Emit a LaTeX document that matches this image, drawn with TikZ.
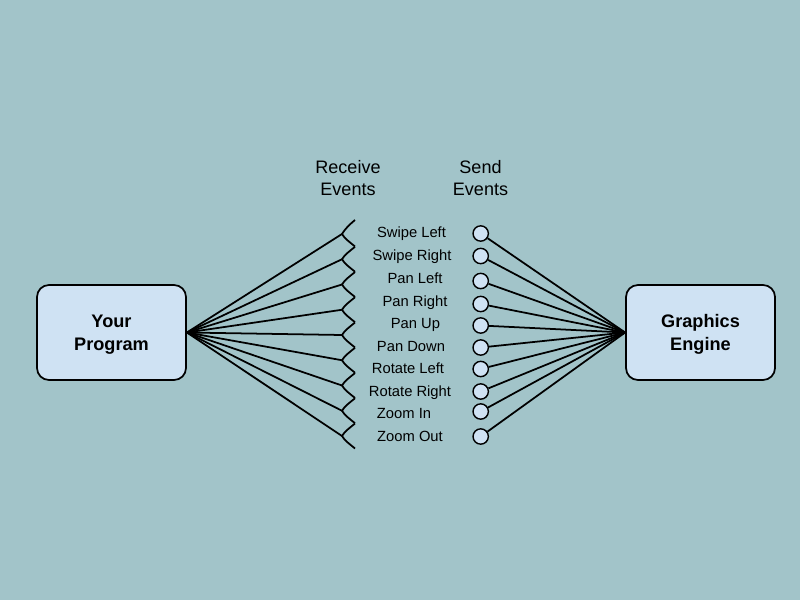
\documentclass[tikz,border=0pt]{standalone}
\usepackage{fontspec}
\setmainfont{Liberation Sans}
\usetikzlibrary{calc}
\definecolor{paper}{HTML}{A2C4C9}
\definecolor{boxblue}{HTML}{CFE2F3}

\begin{document}
\begin{tikzpicture}[x=0.3mm,y=-0.3mm,
                    component/.style={draw,line width=1.5pt,rounded corners=3.6mm,fill=boxblue,
                                      minimum width=44.7mm,minimum height=28.5mm,align=center,text depth=0pt,
                                      font=\fontsize{15.5}{19.6}\selectfont\bfseries},
                    heading/.style={align=center,font=\fontsize{15.4}{18.8}\selectfont},
                    event/.style={anchor=base,font=\fontsize{12.6}{15}\selectfont},
                    socket/.style={line width=1.5pt},
                    plug/.style={circle,draw,line width=1.2pt,fill=boxblue,minimum size=4.6mm,inner sep=0pt},
                    wire/.style={line width=1.5pt}]
  \fill[paper] (0,0) rectangle (800,600);

  \node[component] (program) at (111.5,332.5) {Your\\Program};
  \node[component] (engine) at (700.5,332.5) {Graphics\\Engine};

  \node[heading] (receive) at (348,178) {Receive\\Events};
  \node[heading] (send) at (480.5,178) {Send\\Events};

  \node[event] (swipeleft) at (411.5,238) {Swipe Left};
  \node[event] (swiperight) at (412,260) {Swipe Right};
  \node[event] (panleft) at (415,283) {Pan Left};
  \node[event] (panright) at (415,306) {Pan Right};
  \node[event] (panup) at (415.5,328) {Pan Up};
  \node[event] (pandown) at (411,351) {Pan Down};
  \node[event] (rotateleft) at (408,373) {Rotate Left};
  \node[event] (rotateright) at (410,396) {Rotate Right};
  \node[event] (zoomin) at (404,418) {Zoom In};
  \node[event] (zoomout) at (410,441) {Zoom Out};

  \coordinate (rcv1) at (342,234);
  \coordinate (rcv2) at (342,259.25);
  \coordinate (rcv3) at (342,284.5);
  \coordinate (rcv4) at (342,309.75);
  \coordinate (rcv5) at (342,335);
  \coordinate (rcv6) at (342,360.25);
  \coordinate (rcv7) at (342,385.5);
  \coordinate (rcv8) at (342,410.75);
  \coordinate (rcv9) at (342,436);

  \draw[socket] ($(rcv1)+(13,-14)$) .. controls +(-6,5) and +(3,-5) .. (rcv1) .. controls +(3,5) and +(-6,-5) .. ($(rcv1)+(13,12.5)$);
  \draw[socket] ($(rcv2)+(13,-12.5)$) .. controls +(-6,5) and +(3,-5) .. (rcv2) .. controls +(3,5) and +(-6,-5) .. ($(rcv2)+(13,12.5)$);
  \draw[socket] ($(rcv3)+(13,-12.5)$) .. controls +(-6,5) and +(3,-5) .. (rcv3) .. controls +(3,5) and +(-6,-5) .. ($(rcv3)+(13,12.5)$);
  \draw[socket] ($(rcv4)+(13,-12.5)$) .. controls +(-6,5) and +(3,-5) .. (rcv4) .. controls +(3,5) and +(-6,-5) .. ($(rcv4)+(13,12.5)$);
  \draw[socket] ($(rcv5)+(13,-12.5)$) .. controls +(-6,5) and +(3,-5) .. (rcv5) .. controls +(3,5) and +(-6,-5) .. ($(rcv5)+(13,12.5)$);
  \draw[socket] ($(rcv6)+(13,-12.5)$) .. controls +(-6,5) and +(3,-5) .. (rcv6) .. controls +(3,5) and +(-6,-5) .. ($(rcv6)+(13,12.5)$);
  \draw[socket] ($(rcv7)+(13,-12.5)$) .. controls +(-6,5) and +(3,-5) .. (rcv7) .. controls +(3,5) and +(-6,-5) .. ($(rcv7)+(13,12.5)$);
  \draw[socket] ($(rcv8)+(13,-12.5)$) .. controls +(-6,5) and +(3,-5) .. (rcv8) .. controls +(3,5) and +(-6,-5) .. ($(rcv8)+(13,12.5)$);
  \draw[socket] ($(rcv9)+(13,-12.5)$) .. controls +(-6,5) and +(3,-5) .. (rcv9) .. controls +(3,5) and +(-6,-5) .. ($(rcv9)+(13,12.5)$);

  \draw[wire] (program.east) -- (rcv1);
  \draw[wire] (program.east) -- (rcv2);
  \draw[wire] (program.east) -- (rcv3);
  \draw[wire] (program.east) -- (rcv4);
  \draw[wire] (program.east) -- (rcv5);
  \draw[wire] (program.east) -- (rcv6);
  \draw[wire] (program.east) -- (rcv7);
  \draw[wire] (program.east) -- (rcv8);
  \draw[wire] (program.east) -- (rcv9);

  \node[plug] (snd1) at (480.7,233.5) {};
  \node[plug] (snd2) at (480.7,256) {};
  \node[plug] (snd3) at (480.7,281) {};
  \node[plug] (snd4) at (480.7,304) {};
  \node[plug] (snd5) at (480.7,325.5) {};
  \node[plug] (snd6) at (480.7,347.5) {};
  \node[plug] (snd7) at (480.7,369) {};
  \node[plug] (snd8) at (480.7,391.5) {};
  \node[plug] (snd9) at (480.7,411.5) {};
  \node[plug] (snd10) at (480.7,436.5) {};

  \draw[wire] (snd1) -- (engine.west);
  \draw[wire] (snd2) -- (engine.west);
  \draw[wire] (snd3) -- (engine.west);
  \draw[wire] (snd4) -- (engine.west);
  \draw[wire] (snd5) -- (engine.west);
  \draw[wire] (snd6) -- (engine.west);
  \draw[wire] (snd7) -- (engine.west);
  \draw[wire] (snd8) -- (engine.west);
  \draw[wire] (snd9) -- (engine.west);
  \draw[wire] (snd10) -- (engine.west);
\end{tikzpicture}
\end{document}
